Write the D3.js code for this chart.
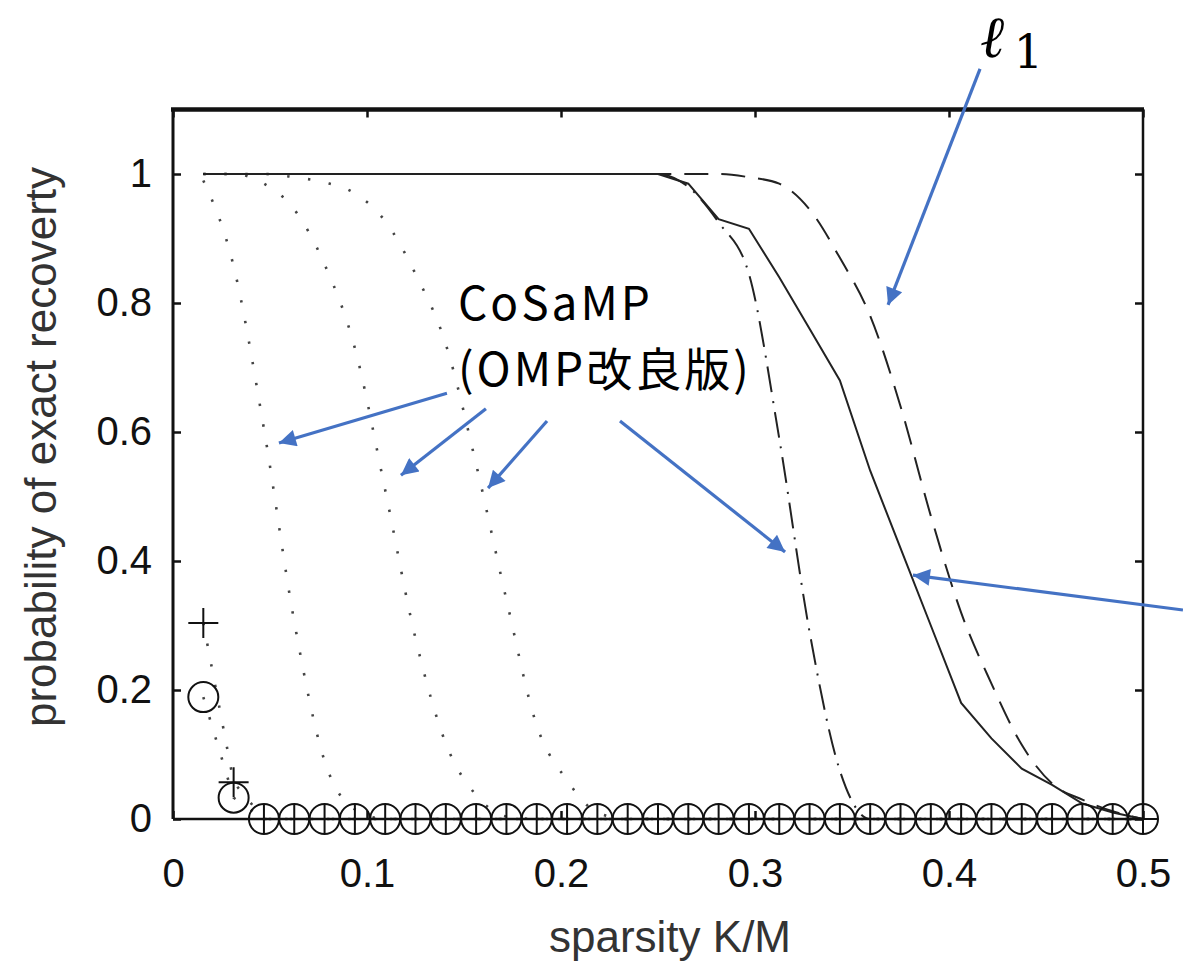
<!DOCTYPE html>
<html>
<head>
<meta charset="utf-8">
<script src="https://cdn.jsdelivr.net/npm/d3@7"></script>
<style>
  body { margin: 0; background: #fff; }
  svg { display: block; }
</style>
</head>
<body>
<div id="chart"></div>
<script>
// sparsity K/M with M = 64
const M = 64;
const kValues = [1, 2, 3, 4, 5, 6, 7, 8, 9, 10, 11, 12, 13, 14, 15, 16,
                 17, 18, 19, 20, 21, 22, 23, 24, 25, 26, 27, 28, 29, 30, 31, 32];

// CoSaMP (dotted) curves
const cosamp1 = [0.99, 0.857, 0.605, 0.306, 0.09, 0.015, 0, 0, 0, 0, 0, 0, 0, 0, 0, 0,
                 0, 0, 0, 0, 0, 0, 0, 0, 0, 0, 0, 0, 0, 0, 0, 0];
const cosamp2 = [1, 1, 0.985, 0.945, 0.86, 0.73, 0.51, 0.28, 0.117, 0.037, 0.004, 0, 0, 0, 0, 0,
                 0, 0, 0, 0, 0, 0, 0, 0, 0, 0, 0, 0, 0, 0, 0, 0];
const cosamp3 = [1, 1, 1, 0.995, 0.987, 0.97, 0.927, 0.845, 0.736, 0.55, 0.34, 0.145, 0.06, 0.01, 0, 0,
                 0, 0, 0, 0, 0, 0, 0, 0, 0, 0, 0, 0, 0, 0, 0, 0];
// CoSaMP (dash-dot)
const cosamp4 = [1, 1, 1, 1, 1, 1, 1, 1, 1, 1, 1, 1, 1, 1, 1, 1,
                 0.98, 0.925, 0.845, 0.59, 0.29, 0.075, 0, 0, 0, 0, 0, 0, 0, 0, 0, 0];
// solid
const solidSeries = [1, 1, 1, 1, 1, 1, 1, 1, 1, 1, 1, 1, 1, 1, 1, 1,
                     0.985, 0.93, 0.915, 0.84, 0.76, 0.68, 0.54, 0.42, 0.30, 0.18, 0.125, 0.078, 0.053, 0.024, 0.01, 0];
// l1 (dashed)
const l1Series = [1, 1, 1, 1, 1, 1, 1, 1, 1, 1, 1, 1, 1, 1, 1, 1,
                  1, 1, 0.995, 0.985, 0.945, 0.87, 0.78, 0.64, 0.47, 0.32, 0.21, 0.115, 0.055, 0.03, 0.012, 0];
// marker series
const plusSeries = [0.304, 0.057, 0, 0, 0, 0, 0, 0, 0, 0, 0, 0, 0, 0, 0, 0,
                    0, 0, 0, 0, 0, 0, 0, 0, 0, 0, 0, 0, 0, 0, 0, 0];
const circleSeries = [0.189, 0.033, 0, 0, 0, 0, 0, 0, 0, 0, 0, 0, 0, 0, 0, 0,
                      0, 0, 0, 0, 0, 0, 0, 0, 0, 0, 0, 0, 0, 0, 0, 0];

const xTicks = [0, 0.1, 0.2, 0.3, 0.4, 0.5];
const xTickLabels = ["0", "0.1", "0.2", "0.3", "0.4", "0.5"];
const yTicks = [0, 0.2, 0.4, 0.6, 0.8, 1];
const yTickLabels = ["0", "0.2", "0.4", "0.6", "0.8", "1"];

// annotation arrows, in data units: [x0, y0, x1(tip), y1(tip)]
const arrows = [
  [0.416, 1.163, 0.3686, 0.797],
  [0.1412, 0.660, 0.0546, 0.583],
  [0.1613, 0.636, 0.1175, 0.533],
  [0.1928, 0.617, 0.1624, 0.513],
  [0.2304, 0.617, 0.3155, 0.414],
  [0.5206, 0.324, 0.3814, 0.378]
];

const W = 1183, H = 967;
const svg = d3.select("#chart").append("svg")
  .attr("width", W).attr("height", H);
svg.append("rect").attr("width", W).attr("height", H).attr("fill", "#fff");

const x = d3.scaleLinear().domain([0, 0.5]).range([173, 1143]);
const y = d3.scaleLinear().domain([0, 1.1]).range([819, 109.5]);

const pts = arr => arr.map((v, i) => [kValues[i] / M, v]);

const lineSmooth = d3.line().curve(d3.curveMonotoneX).x(d => x(d[0])).y(d => y(d[1]));
const lineStraight = d3.line().x(d => x(d[0])).y(d => y(d[1]));

const g = svg.append("g");

// dotted CoSaMP curves
[cosamp1, cosamp2, cosamp3].forEach(s => {
  g.append("path").datum(pts(s))
    .attr("d", lineSmooth)
    .attr("fill", "none")
    .attr("stroke", "#444")
    .attr("stroke-width", 2.6)
    .attr("stroke-dasharray", "2.4,18.6");
});
// dotted connectors for marker series
[plusSeries, circleSeries].forEach(s => {
  g.append("path").datum(pts(s))
    .attr("d", lineStraight)
    .attr("fill", "none")
    .attr("stroke", "#444")
    .attr("stroke-width", 2.6)
    .attr("stroke-dasharray", "2.4,18.6");
});
// dash-dot
g.append("path").datum(pts(cosamp4))
  .attr("d", lineSmooth)
  .attr("fill", "none").attr("stroke", "#222").attr("stroke-width", 2)
  .attr("stroke-dasharray", "26,9,2,9");
// solid
g.append("path").datum(pts(solidSeries))
  .attr("d", lineStraight)
  .attr("fill", "none").attr("stroke", "#222").attr("stroke-width", 2);
// dashed l1
g.append("path").datum(pts(l1Series))
  .attr("d", lineSmooth)
  .attr("fill", "none").attr("stroke", "#222").attr("stroke-width", 2)
  .attr("stroke-dasharray", "24,13");

// circle markers
g.selectAll("circle.m").data(pts(circleSeries)).enter().append("circle")
  .attr("class", "m")
  .attr("cx", d => x(d[0])).attr("cy", d => y(d[1])).attr("r", 15)
  .attr("fill", "none").attr("stroke", "#111").attr("stroke-width", 2);
// plus markers
g.selectAll("path.plus").data(pts(plusSeries)).enter().append("path")
  .attr("class", "plus")
  .attr("d", d => {
    const cx = x(d[0]), cy = y(d[1]), s = 15;
    return `M${cx - s},${cy}H${cx + s}M${cx},${cy - s}V${cy + s}`;
  })
  .attr("fill", "none").attr("stroke", "#111").attr("stroke-width", 2);

// axes (ticks pointing inward)
const fontTick = "'Liberation Sans', Arial, sans-serif";
const ax = svg.append("g").attr("transform", `translate(0,${y(0)})`)
  .call(d3.axisBottom(x).tickValues(xTicks).tickSizeInner(-8).tickSizeOuter(0)
    .tickPadding(40).tickFormat((d, i) => xTickLabels[i]));
const ay = svg.append("g").attr("transform", `translate(${x(0)},0)`)
  .call(d3.axisLeft(y).tickValues(yTicks).tickSizeInner(-8).tickSizeOuter(0)
    .tickPadding(21).tickFormat((d, i) => yTickLabels[i]));
const at = svg.append("g").attr("transform", `translate(0,${y.range()[1]})`)
  .call(d3.axisTop(x).tickValues(xTicks).tickSizeInner(-8).tickSizeOuter(0).tickFormat(""));
const ar = svg.append("g").attr("transform", `translate(${x(0.5)},0)`)
  .call(d3.axisRight(y).tickValues(yTicks).tickSizeInner(-8).tickSizeOuter(0).tickFormat(""));
[ax, ay, at, ar].forEach(a => {
  a.select(".domain").remove();
  a.selectAll(".tick line").attr("stroke", "#111").attr("stroke-width", 2.5);
  a.selectAll("text").attr("font-family", fontTick).attr("font-size", 40).attr("fill", "#111");
});

// frame
const y0 = y(0), y1 = y.range()[1], x0 = x(0), x1 = x(0.5);
svg.append("line").attr("x1", x0 - 2).attr("x2", x1 + 1).attr("y1", y1).attr("y2", y1)
  .attr("stroke", "#111").attr("stroke-width", 4.5);
svg.append("line").attr("x1", x0).attr("x2", x0).attr("y1", y1).attr("y2", y0)
  .attr("stroke", "#111").attr("stroke-width", 3);
svg.append("line").attr("x1", x1).attr("x2", x1).attr("y1", y1).attr("y2", y0)
  .attr("stroke", "#111").attr("stroke-width", 2.5);
svg.append("line").attr("x1", x0).attr("x2", x1).attr("y1", y0).attr("y2", y0)
  .attr("stroke", "#111").attr("stroke-width", 2.5);

// axis titles
svg.append("text")
  .attr("x", 670).attr("y", 952)
  .attr("text-anchor", "middle")
  .attr("font-family", fontTick).attr("font-size", 44).attr("fill", "#333")
  .text("sparsity K/M");
svg.append("text")
  .attr("transform", "translate(56,447) rotate(-90)")
  .attr("text-anchor", "middle")
  .attr("font-family", fontTick).attr("font-size", 44).attr("fill", "#333")
  .text("probability of exact recoverty");

// annotations
const blue = "#4472C4";
const defs = svg.append("defs");
defs.append("marker").attr("id", "arrowHead")
  .attr("viewBox", "0 0 10 10").attr("refX", 10).attr("refY", 5)
  .attr("markerUnits", "userSpaceOnUse")
  .attr("markerWidth", 22).attr("markerHeight", 17)
  .attr("orient", "auto")
  .append("path").attr("d", "M0,0L10,5L0,10z").attr("fill", blue);

svg.selectAll("line.arrow").data(arrows).enter().append("line")
  .attr("class", "arrow")
  .attr("x1", d => x(d[0])).attr("y1", d => y(d[1]))
  .attr("x2", d => x(d[2])).attr("y2", d => y(d[3]))
  .attr("stroke", blue).attr("stroke-width", 3.2)
  .attr("marker-end", "url(#arrowHead)");

const jpFont = "'Noto Sans CJK JP', sans-serif";
const cosampLabel = svg.append("text")
  .attr("font-family", jpFont).attr("font-size", 46).attr("fill", "#000")
  .attr("letter-spacing", 3);
cosampLabel.append("tspan")
  .attr("x", x(0.1469)).attr("y", y(0.774))
  .text("CoSaMP");
cosampLabel.append("tspan")
  .attr("x", x(0.1469)).attr("y", y(0.671))
  .text("(OMP改良版)");

const l1 = svg.append("text")
  .attr("x", x(0.4165)).attr("y", y(1.181))
  .attr("font-family", "'DejaVu Serif', serif").attr("fill", "#000");
l1.append("tspan").attr("font-size", 58).attr("font-style", "italic").attr("font-weight", "bold").text("ℓ");
l1.append("tspan").attr("font-size", 46).attr("dx", 8).attr("dy", 11).text("1");
</script>
</body>
</html>
